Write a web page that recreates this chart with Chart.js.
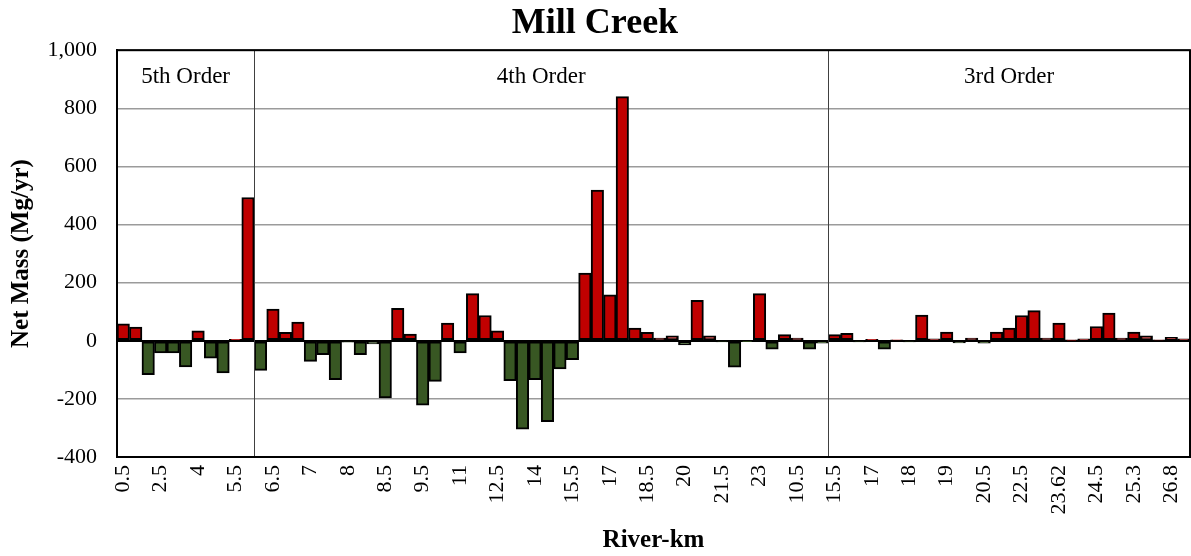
<!DOCTYPE html>
<html>
<head>
<meta charset="utf-8">
<script src="https://cdn.jsdelivr.net/npm/chart.js@4/dist/chart.umd.min.js"></script>
<style>
  html, body { margin: 0; padding: 0; background: #fff; overflow: hidden; }
  #wrap { width: 1191px; height: 556px; position: relative; }
</style>
</head>
<body>
<div id="wrap"><canvas id="millChart"></canvas></div>
<script>
// River-km labels shown on the axis (every third station)
const kmLabels = ['0.5', '2.5', '4', '5.5', '6.5', '7', '8', '8.5', '9.5', '11',
    '12.5', '14', '15.5', '17', '18.5', '20', '21.5', '23', '10.5', '15.5',
    '17', '18', '19', '20.5', '22.5', '23.62', '24.5', '25.3', '26.8'];

// Net mass per station (Mg/yr)
const netMass = [58, 47, -117, -42, -42, -90, 34, -60, -111, 5,
    493, -102, 109, 29, 64, -71, -48, -134, -5, -48,
    -11, -197, 112, 23, -222, -140, 61, -42, 162, 87,
    34, -137, -304, -134, -278, -97, -65, 233, 519, 158,
    840, 44, 29, 9, 17, -14, 139, 17, -4, -91,
    -2, 162, -29, 21, 9, -29, -8, 21, 26, -4,
    5, -29, 3, -4, 88, 7, 30, -7, 9, -8,
    30, 44, 87, 104, 9, 61, 1, 7, 49, 95,
    9, 30, 17, 2, 12, 7];

// stream order sections (first station index of each)
const orderNames = ['5th Order', '4th Order', '3rd Order'];
const orderStarts = [0, 11, 57];

const yTicks = [-400, -200, 0, 200, 400, 600, 800, 1000];

const labels = netMass.map((v, i) => (i % 3 === 0 ? kmLabels[i / 3] : ''));

const serif = "'Liberation Serif', 'Times New Roman', serif";

const orderPlugin = {
    id: 'orders',
    afterDatasetsDraw(chart) {
        const ctx = chart.ctx;
        const area = chart.chartArea;
        const x = chart.scales.x;
        const n = netMass.length;
        const edge = i => {
            if (i <= 0) return area.left;
            if (i >= n) return area.right;
            return (x.getPixelForValue(i - 1) + x.getPixelForValue(i)) / 2;
        };
        ctx.save();
        // section dividers
        ctx.strokeStyle = '#404040';
        ctx.lineWidth = 1;
        for (let k = 1; k < orderStarts.length; k++) {
            const px = Math.round(edge(orderStarts[k])) + 0.5;
            ctx.beginPath();
            ctx.moveTo(px, area.top);
            ctx.lineTo(px, area.bottom);
            ctx.stroke();
        }
        // section names
        ctx.fillStyle = '#000';
        ctx.font = '23px ' + serif;
        ctx.textAlign = 'center';
        ctx.textBaseline = 'middle';
        for (let k = 0; k < orderStarts.length; k++) {
            const a = edge(orderStarts[k]);
            const b = edge(k + 1 < orderStarts.length ? orderStarts[k + 1] : n);
            ctx.fillText(orderNames[k], (a + b) / 2, area.top + 27);
        }
        // plot frame
        ctx.strokeStyle = '#000';
        ctx.lineWidth = 2;
        ctx.strokeRect(area.left, area.top, area.right - area.left, area.bottom - area.top);
        ctx.restore();
    }
};

const ctx = document.getElementById('millChart').getContext('2d');
const chart = new Chart(ctx, {
    type: 'bar',
    data: {
        labels: labels,
        datasets: [{
            label: 'Net Mass',
            data: netMass,
            backgroundColor: netMass.map(v => (v >= 0 ? '#C00000' : '#385723')),
            borderColor: '#000',
            borderWidth: 2,
            borderSkipped: false,
            barPercentage: 1,
            categoryPercentage: 1
        }]
    },
    options: {
        responsive: true,
        maintainAspectRatio: false,
        animation: false,
        layout: { padding: { left: 0, right: 1, top: 0, bottom: 0 } },
        plugins: {
            legend: { display: false },
            tooltip: { enabled: false },
            title: {
                display: true,
                text: 'Mill Creek',
                color: '#000',
                font: { family: serif, size: 36, weight: 'bold', lineHeight: 1.2 },
                padding: { top: 2, bottom: 5 }
            }
        },
        scales: {
            x: {
                grid: { display: false },
                border: { display: true, color: '#000', width: 2 },
                ticks: {
                    color: '#000',
                    autoSkip: false,
                    minRotation: 90,
                    maxRotation: 90,
                    padding: 0,
                    font: { family: serif, size: 22 }
                },
                title: {
                    display: true,
                    text: 'River-km',
                    color: '#000',
                    font: { family: serif, size: 25, weight: 'bold', lineHeight: 1.2 },
                    padding: { top: 0, bottom: 0 }
                },
                afterFit(scale) {
                    scale.height = 99;
                    scale.paddingLeft = 0;
                    scale.paddingRight = 0;
                }
            },
            y: {
                min: -400,
                max: 1000,
                afterBuildTicks(scale) { scale.ticks = yTicks.map(v => ({ value: v })); },
                grid: {
                    drawTicks: false,
                    color: ctx => (ctx.tick && ctx.tick.value === 0 ? '#000' : 'rgba(130,130,130,0.8)'),
                    lineWidth: ctx => (ctx.tick && ctx.tick.value === 0 ? 2 : 1.5)
                },
                border: { display: true, color: '#000', width: 2 },
                ticks: {
                    color: '#000',
                    padding: 20,
                    font: { family: serif, size: 22 },
                    callback: v => v.toLocaleString('en-US')
                },
                title: {
                    display: true,
                    text: 'Net Mass (Mg/yr)',
                    color: '#000',
                    font: { family: serif, size: 25, weight: 'bold', lineHeight: 1.2 },
                    padding: { top: 7, bottom: 0 }
                },
                afterFit(scale) {
                    scale.width = 117;
                    scale.paddingTop = 0;
                    scale.paddingBottom = 0;
                }
            }
        }
    },
    plugins: [orderPlugin]
});
</script>
</body>
</html>
